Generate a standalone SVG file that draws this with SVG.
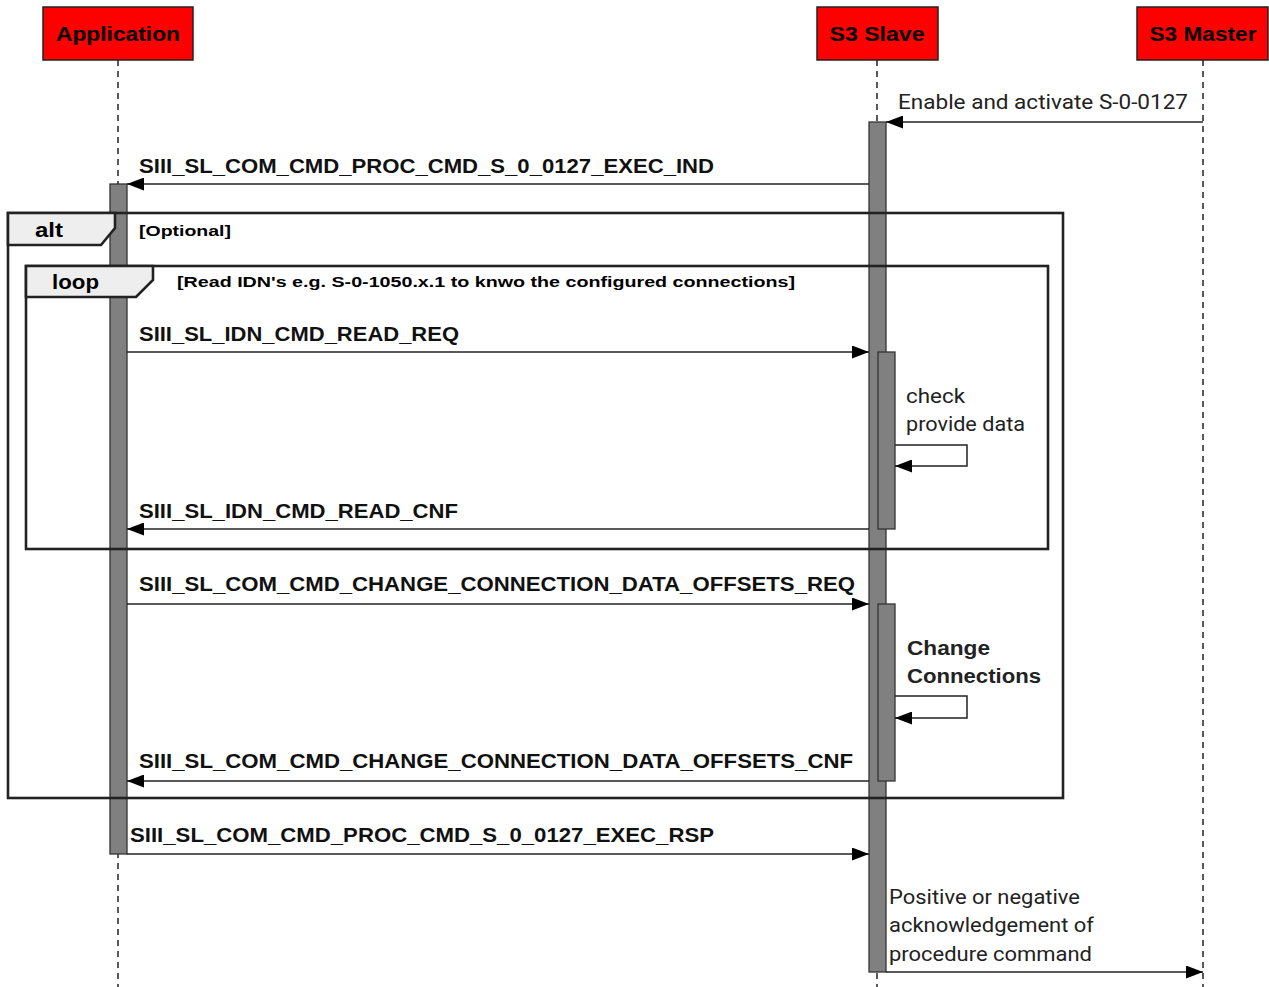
<svg xmlns="http://www.w3.org/2000/svg" width="1269" height="987" viewBox="0 0 1269 987">
<defs>
<style>
.actor{fill:#ff0000;stroke:#222;stroke-width:1.5}
.aname{font-family:"Liberation Sans",Arial,sans-serif;font-weight:bold;font-size:20px;fill:#000}
.life{stroke:#000;stroke-width:1.3;stroke-dasharray:6,5;fill:none}
.act{fill:#808080;stroke:#333;stroke-width:1.3}
.frame{fill:none;stroke:#222;stroke-width:2.6}
.tab{fill:#eeeeee;stroke:#222;stroke-width:2.6}
.tabt{font-family:"Liberation Sans",Arial,sans-serif;font-weight:bold;font-size:20px;fill:#000}
.cond{font-family:"Liberation Sans",Arial,sans-serif;font-weight:bold;font-size:15px;fill:#000}
.msg{stroke:#222;stroke-width:1.5;fill:none}
.mt{font-family:"Liberation Sans",Arial,sans-serif;font-weight:bold;font-size:20px;fill:#111}
.nt{font-family:Roboto,"Liberation Sans",Arial,sans-serif;font-size:20px;fill:#222}
.bt{font-family:"Liberation Sans",Arial,sans-serif;font-weight:bold;font-size:20px;fill:#222}
</style>
<marker id="ah" viewBox="0 0 17 13" refX="17" refY="6.5" markerWidth="17" markerHeight="13" markerUnits="userSpaceOnUse" orient="auto">
<path d="M0,0 L17,6.5 L0,13 z" fill="#000"/>
</marker>
</defs>

<g id="lifelines">
<line class="life" x1="118" y1="60" x2="118" y2="987"/>
<line class="life" x1="877" y1="60" x2="877" y2="987"/>
<line class="life" x1="1203" y1="60" x2="1203" y2="987"/>
</g>

<g id="actor-application">
<rect class="actor" x="43" y="7" width="150" height="53"/>
<text class="aname" x="118" y="41" text-anchor="middle" textLength="124" lengthAdjust="spacingAndGlyphs">Application</text>
</g>
<g id="actor-s3slave">
<rect class="actor" x="817" y="7" width="121" height="53"/>
<text class="aname" x="877" y="41" text-anchor="middle" textLength="95" lengthAdjust="spacingAndGlyphs">S3 Slave</text>
</g>
<g id="actor-s3master">
<rect class="actor" x="1137" y="7" width="131" height="53"/>
<text class="aname" x="1203" y="41" text-anchor="middle" textLength="107" lengthAdjust="spacingAndGlyphs">S3 Master</text>
</g>

<g id="activations">
<rect id="act-slave" class="act" x="869" y="122" width="17" height="850"/>
<rect id="act-app" class="act" x="110" y="184" width="17" height="670"/>
<rect id="act-slave-check" class="act" x="878" y="352" width="17" height="177"/>
<rect id="act-slave-change" class="act" x="878" y="604" width="17" height="177"/>
</g>

<g id="frame-alt">
<rect class="frame" x="8" y="213" width="1055" height="585"/>
<path class="tab" d="M8,213 H115 V228 L101,245 H8 Z"/>
<text class="tabt" x="35" y="237" textLength="28" lengthAdjust="spacingAndGlyphs">alt</text>
<text class="cond" x="139" y="236" textLength="92" lengthAdjust="spacingAndGlyphs">[Optional]</text>
</g>

<g id="frame-loop">
<rect class="frame" x="26" y="266" width="1022" height="283"/>
<path class="tab" d="M26,266 H153 V280 L136,297 H26 Z"/>
<text class="tabt" x="52" y="289" textLength="47" lengthAdjust="spacingAndGlyphs">loop</text>
<text class="cond" x="177" y="287" textLength="618" lengthAdjust="spacingAndGlyphs">[Read IDN's e.g. S-0-1050.x.1 to knwo the configured connections]</text>
</g>

<g id="connectors">
<line class="msg" x1="1203" y1="122" x2="886" y2="122" marker-end="url(#ah)"/>
<line class="msg" x1="869" y1="184" x2="127" y2="184" marker-end="url(#ah)"/>
<line class="msg" x1="127" y1="352" x2="869" y2="352" marker-end="url(#ah)"/>
<polyline class="msg" points="895,445 967,445 967,466 895,466" marker-end="url(#ah)"/>
<line class="msg" x1="869" y1="529" x2="127" y2="529" marker-end="url(#ah)"/>
<line class="msg" x1="127" y1="604" x2="869" y2="604" marker-end="url(#ah)"/>
<polyline class="msg" points="895,696 967,696 967,718 895,718" marker-end="url(#ah)"/>
<line class="msg" x1="869" y1="781" x2="127" y2="781" marker-end="url(#ah)"/>
<line class="msg" x1="127" y1="854" x2="869" y2="854" marker-end="url(#ah)"/>
<line class="msg" x1="886" y1="972" x2="1203" y2="972" marker-end="url(#ah)"/>
</g>

<g id="labels">
<text class="nt" x="898" y="109" textLength="290" lengthAdjust="spacingAndGlyphs">Enable and activate S-0-0127</text>
<text class="mt" x="139" y="173" textLength="575" lengthAdjust="spacingAndGlyphs">SIII_SL_COM_CMD_PROC_CMD_S_0_0127_EXEC_IND</text>
<text class="mt" x="139" y="341" textLength="320" lengthAdjust="spacingAndGlyphs">SIII_SL_IDN_CMD_READ_REQ</text>
<text class="nt" x="906" y="403" textLength="59" lengthAdjust="spacingAndGlyphs">check</text>
<text class="nt" x="906" y="431" textLength="119" lengthAdjust="spacingAndGlyphs">provide data</text>
<text class="mt" x="139" y="518" textLength="319" lengthAdjust="spacingAndGlyphs">SIII_SL_IDN_CMD_READ_CNF</text>
<text class="mt" x="139" y="591" textLength="716" lengthAdjust="spacingAndGlyphs">SIII_SL_COM_CMD_CHANGE_CONNECTION_DATA_OFFSETS_REQ</text>
<text class="bt" x="907" y="655" textLength="83" lengthAdjust="spacingAndGlyphs">Change</text>
<text class="bt" x="907" y="683" textLength="134" lengthAdjust="spacingAndGlyphs">Connections</text>
<text class="mt" x="139" y="768" textLength="714" lengthAdjust="spacingAndGlyphs">SIII_SL_COM_CMD_CHANGE_CONNECTION_DATA_OFFSETS_CNF</text>
<text class="mt" x="130" y="842" textLength="584" lengthAdjust="spacingAndGlyphs">SIII_SL_COM_CMD_PROC_CMD_S_0_0127_EXEC_RSP</text>
<text class="nt" x="889" y="904" textLength="191" lengthAdjust="spacingAndGlyphs">Positive or negative</text>
<text class="nt" x="889" y="932" textLength="205" lengthAdjust="spacingAndGlyphs">acknowledgement of</text>
<text class="nt" x="889" y="961" textLength="203" lengthAdjust="spacingAndGlyphs">procedure command</text>
</g>
</svg>
